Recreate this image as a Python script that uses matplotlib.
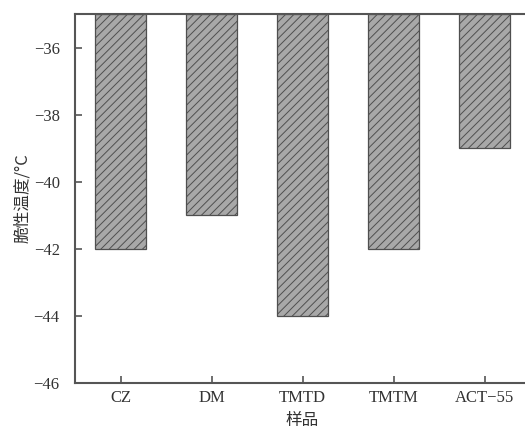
import matplotlib
matplotlib.use("Agg")
import matplotlib.pyplot as plt

categories = ["CZ", "DM", "TMTD", "TMTM", "ACT\u221255"]
values = [-42, -41, -44, -42, -39]
yticks = [-46, -44, -42, -40, -38, -36]
baseline = -35

plt.rcParams['hatch.linewidth'] = 0.7
fig = plt.figure(figsize=(5.25, 4.28), dpi=100)
ax = fig.add_axes([75/525, 1-383/428, 455/525, (383-14)/428])

x = list(range(len(categories)))
heights = [v - baseline for v in values]
ax.bar(x, heights, bottom=baseline, width=0.56, color="#a8a8a8",
       edgecolor="#4f4f4f", hatch="////", linewidth=0.9)

ax.set_xlim(-0.5, len(categories) - 0.5)
ax.set_ylim(-46, -35)
ax.set_yticks(yticks)
ax.set_yticklabels([f"\u2212{abs(t)}" for t in yticks], family="Liberation Serif", fontsize=12, color="#333333")
ax.set_xticks(x)
ax.set_xticklabels(categories, family="Liberation Serif", fontsize=12, color="#333333")
ax.tick_params(direction="in", length=5, width=1.2, color="#555555")
ax.tick_params(axis="y", pad=11)
ax.tick_params(axis="x", pad=5)
for s in ax.spines.values():
    s.set_linewidth(1.5)
    s.set_color("#555555")

ax.set_ylabel("脆性温度/°C", family=["Noto Sans CJK SC", "DejaVu Sans"], fontsize=12, color="#333333", labelpad=2)
ax.set_xlabel("样品", family=["Noto Sans CJK SC", "DejaVu Sans"], fontsize=12, color="#333333", labelpad=4)

fig.savefig("out.png", dpi=100)
